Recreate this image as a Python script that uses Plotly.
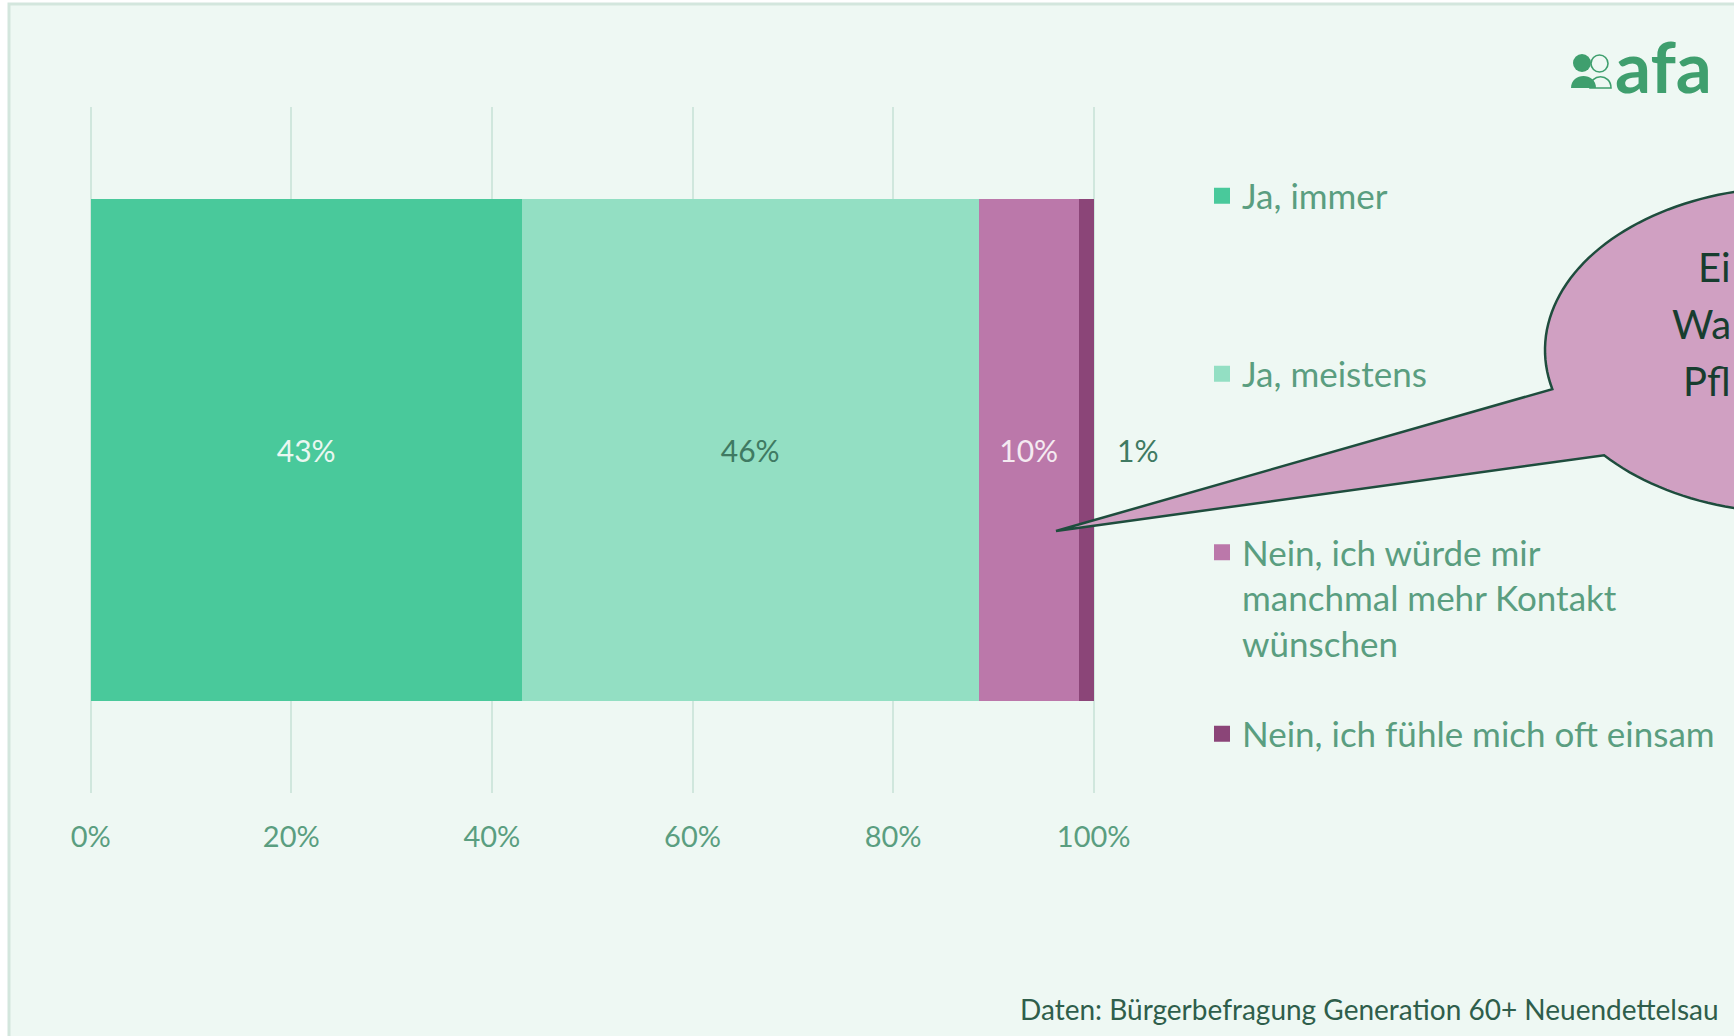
import numpy as np
import plotly.graph_objects as go

W, H = 1734, 1036

# ---------------- data ----------------
categories = ["Ja, immer", "Ja, meistens",
              "Nein, ich würde mir<br>manchmal mehr Kontakt<br>wünschen",
              "Nein, ich fühle mich oft einsam"]
values = [43.0, 45.5, 10.0, 1.5]
value_labels = ["43%", "46%", "10%", "1%"]
tick_vals = [0, 20, 40, 60, 80, 100]
tick_text = ["0%", "20%", "40%", "60%", "80%", "100%"]
bar_colors = ["#49C99B", "#93DFC3", "#BB78AA", "#8B4578"]
label_colors = ["#EAF7F1", "#3F7A62", "#F4EAF1", "#3F7A62"]
bubble_lines = ["Ei", "Wa", "Pfl"]
source_text = "Daten: Bürgerbefragung Generation 60+ Neuendettelsau"

FONT = "Lato"
TXT_GREEN = "#5A9E80"


def X(px):
    return px / W


def Y(py):
    return 1 - py / H


fig = go.Figure()
legend_names = ["legend", "legend2", "legend3", "legend4"]
for i, (cat, v) in enumerate(zip(categories, values)):
    inside = i < 3
    fig.add_trace(go.Bar(
        x=[v], y=["Kontakt"], orientation="h", name=cat,
        marker=dict(color=bar_colors[i], line=dict(width=0)),
        width=0.733,
        text=[value_labels[i]] if inside else None,
        textposition="inside" if inside else "none",
        insidetextanchor="middle", textangle=0,
        textfont=dict(family=FONT, size=30, color=label_colors[i]),
        showlegend=False,
        hoverinfo="skip",
    ))
# legend entries (square markers, same colours as the bars)
for i, cat in enumerate(categories):
    fig.add_trace(go.Scatter(
        x=[None], y=[None], mode="markers", name=cat,
        marker=dict(symbol="square", size=20, color=bar_colors[i]),
        legend=legend_names[i], showlegend=True,
    ))

# label for the thin last segment, outside the bar end
fig.add_annotation(x=sum(values), y="Kontakt", xref="x", yref="y",
                   text=value_labels[3], showarrow=False, xanchor="left",
                   xshift=21, font=dict(family=FONT, size=30, color=label_colors[3]))

shapes = []
# frame
shapes.append(dict(type="rect", xref="paper", yref="paper", layer="below",
                   x0=X(9), x1=X(1760), y0=Y(1060), y1=Y(4),
                   fillcolor="#EEF8F3", line=dict(color="#D3E6DD", width=3)))

# speech bubble
cx, cy, a, b = 1795.0, 350.0, 250.0, 163.0
tip = (1056.0, 531.0)
j_top = (1553.0, 389.0)
j_bot = (1610.0, 452.0)
t1 = np.arctan2((j_top[1] - cy) / b, (j_top[0] - cx) / a)
t2 = np.arctan2((j_bot[1] - cy) / b, (j_bot[0] - cx) / a) + 2 * np.pi
ts = np.linspace(t1, t2, 160)
pts = [(cx + a * np.cos(t), cy + b * np.sin(t)) for t in ts]
path = f"M{X(tip[0]):.5f},{Y(tip[1]):.5f}"
for px_, py_ in pts:
    path += f" L{X(px_):.5f},{Y(py_):.5f}"
path += " Z"
shapes.append(dict(type="path", xref="paper", yref="paper", path=path,
                   fillcolor="#D0A0C2", line=dict(color="#1E4D3D", width=2.5)))

# logo icon (two people)
logo_green = "#3F9F6E"
shapes.append(dict(type="circle", xref="paper", yref="paper",
                   x0=X(1573), x1=X(1591), y0=Y(72), y1=Y(54),
                   fillcolor=logo_green, line=dict(width=0)))
shapes.append(dict(type="circle", xref="paper", yref="paper",
                   x0=X(1591), x1=X(1608), y0=Y(72), y1=Y(55),
                   fillcolor="rgba(0,0,0,0)", line=dict(color=logo_green, width=1.6)))
shapes.append(dict(type="path", xref="paper", yref="paper",
                   path=f"M{X(1571)},{Y(88)} C{X(1571)},{Y(72)} {X(1596)},{Y(72)} {X(1596)},{Y(88)} Z",
                   fillcolor=logo_green, line=dict(width=0)))
shapes.append(dict(type="path", xref="paper", yref="paper",
                   path=f"M{X(1590)},{Y(88)} C{X(1590)},{Y(73)} {X(1611)},{Y(73)} {X(1611)},{Y(88)} Z",
                   fillcolor="rgba(0,0,0,0)", line=dict(color=logo_green, width=1.6)))

annotations = []
annotations.append(dict(xref="paper", yref="paper", x=X(1613), y=Y(66), text="<b>afa</b>",
                        showarrow=False, xanchor="left", yanchor="middle",
                        font=dict(family=FONT, size=71, color=logo_green, weight=900)))
for txt, yl in zip(bubble_lines, [267, 324, 381]):
    annotations.append(dict(xref="paper", yref="paper", x=X(1733), y=Y(yl), text=txt,
                            showarrow=False, xanchor="right", yanchor="middle",
                            font=dict(family=FONT, size=40, color="#173D2F")))
annotations.append(dict(xref="paper", yref="paper", x=X(1721), y=Y(1009), text=source_text,
                        showarrow=False, xanchor="right", yanchor="middle",
                        font=dict(family=FONT, size=28, color="#2F5E4B")))
for ann in annotations:
    fig.add_annotation(**ann)

legend_y = [196, 374, 553, 734]
legend_common = dict(xref="paper", yref="paper", x=X(1202), xanchor="left", yanchor="middle",
                     bgcolor="rgba(0,0,0,0)", borderwidth=0, valign="top", itemsizing="trace",
                     font=dict(family=FONT, size=35, color=TXT_GREEN), itemclick=False)
legend_layout = {}
for name, ly, i in zip(legend_names, legend_y, range(4)):
    d = dict(legend_common)
    if i == 2:
        d["yanchor"] = "top"
        d["y"] = Y(ly - 30)
    else:
        d["y"] = Y(ly)
    legend_layout[name] = d

# x axis: 0..100 spans 90.7px..1093.7px; range padded slightly so edge gridlines show
px_per_unit = (1093.7 - 90.7) / 100
pad = 0.3
fig.update_layout(
    width=W, height=H,
    margin=dict(l=0, r=0, t=0, b=0, autoexpand=False),
    paper_bgcolor="#FFFFFF", plot_bgcolor="rgba(0,0,0,0)",
    barmode="stack", bargap=0,
    shapes=shapes,
    xaxis=dict(domain=[X(90.7 - pad * px_per_unit), X(1093.7 + pad * px_per_unit)],
               range=[-pad, 100 + pad], tickvals=tick_vals,
               ticktext=tick_text, showgrid=True, gridcolor="#D0E7DD", gridwidth=2,
               zeroline=False, showline=False, ticks="", ticklabelstandoff=24,
               tickfont=dict(family=FONT, size=29, color=TXT_GREEN), fixedrange=True),
    yaxis=dict(domain=[Y(793), Y(107)], range=[-0.5, 0.5], showticklabels=False,
               showgrid=False, zeroline=False, showline=False, fixedrange=True),
    showlegend=True,
    **legend_layout,
)

fig.write_html("out.html", config={"displayModeBar": False},
               post_script="document.body.style.margin='0';document.body.style.overflow='hidden';")
